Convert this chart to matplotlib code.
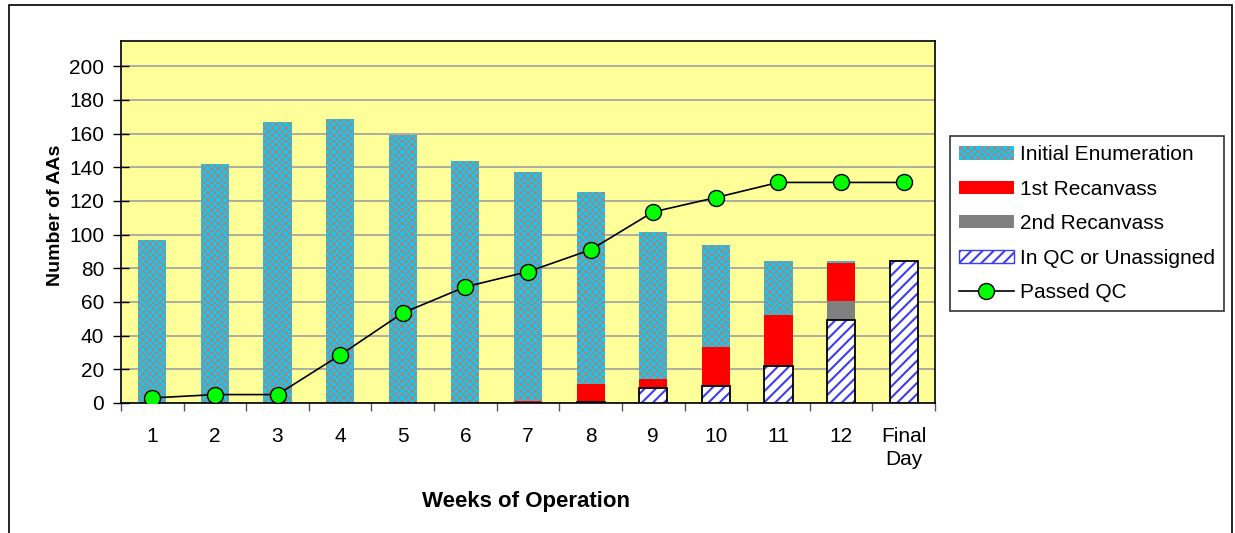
import matplotlib
matplotlib.use("Agg")
import matplotlib.pyplot as plt
from matplotlib.patches import Patch, Rectangle
from matplotlib.lines import Line2D
from matplotlib.path import Path
from matplotlib.legend_handler import HandlerBase
from matplotlib.colors import to_rgb
import numpy as np

plt.rcParams['font.family'] = ['Liberation Sans', 'DejaVu Sans']
plt.rcParams['hatch.linewidth'] = 1.5

categories = ["1", "2", "3", "4", "5", "6", "7", "8", "9", "10", "11", "12", "Final\nDay"]
totals = [97, 142, 167, 168.5, 159, 144, 137, 125.5, 101.5, 94, 84.5, 84.5, 84.5]
in_qc = [0, 0, 0, 0, 0, 0, 0, 0.5, 9, 10, 22, 49, 84.5]
recanvass1 = [0, 0, 0, 0, 0, 0, 1, 11, 5, 23, 30, 22.5, 0]
recanvass2 = [0, 0, 0, 0, 0, 0, 0, 0, 0, 0, 0, 11.5, 0]
passed_qc = [3, 5, 5, 28.5, 53.5, 69, 78, 91, 113.5, 122, 131, 131, 131]

initial = [t - q - r1 - r2 for t, q, r1, r2 in zip(totals, in_qc, recanvass1, recanvass2)]

W, H = 1235, 533
AX_L, AX_R, AX_T, AX_B = 121, 935, 41, 403
fig = plt.figure(figsize=(W / 100, H / 100), dpi=100)
ax = fig.add_axes([AX_L / W, (H - AX_B) / H, (AX_R - AX_L) / W, (AX_B - AX_T) / H])
ax.set_facecolor('#FFFF99')

x = np.arange(len(categories))
bw = 0.45
cyan = '#14C8F2'
gray_c = '#8E8E8E'
blue_h = '#3C3CF0'
XLIM = (-0.5, len(categories) - 0.5)
YLIM = (0, 215)

# In QC (hatched) bottom
ax.bar(x, in_qc, bw, color='white', edgecolor=blue_h, hatch='///', linewidth=0, zorder=3)
ax.bar(x, in_qc, bw, facecolor='none', edgecolor='black', linewidth=1.3, zorder=4)
b1 = np.array(in_qc)
ax.bar(x, recanvass2, bw, bottom=b1, color='#808080', linewidth=0, zorder=3)
b2 = b1 + np.array(recanvass2)
ax.bar(x, recanvass1, bw, bottom=b2, color='#FF0000', linewidth=0, zorder=3)
b3 = b2 + np.array(recanvass1)
init_bars = ax.bar(x, initial, bw, bottom=b3, color=cyan, linewidth=0, zorder=3)

# checkerboard texture for Initial Enumeration, clipped to its bars
cell = 3.4
nx = int(round((AX_R - AX_L) / cell))
ny = int(round((AX_B - AX_T) / cell))
ii, jj = np.meshgrid(np.arange(nx), np.arange(ny))
mask = ((ii + jj) % 2).astype(bool)
img = np.empty((ny, nx, 3))
img[mask] = to_rgb(cyan)
img[~mask] = to_rgb(gray_c)
im = ax.imshow(img, extent=(XLIM[0], XLIM[1], YLIM[0], YLIM[1]), origin='lower',
               interpolation='nearest', aspect='auto', zorder=3.5)
paths = []
for p in init_bars:
    bb = p.get_bbox()
    if bb.height > 0:
        paths.append(Path([(bb.x0, bb.y0), (bb.x1, bb.y0), (bb.x1, bb.y1), (bb.x0, bb.y1), (bb.x0, bb.y0)],
                          [Path.MOVETO, Path.LINETO, Path.LINETO, Path.LINETO, Path.CLOSEPOLY]))
im.set_clip_path(Path.make_compound_path(*paths), ax.transData)

ax.plot(x, passed_qc, color='black', lw=1.2, marker='o', markersize=11.5,
        markerfacecolor='#00FF00', markeredgecolor='black', markeredgewidth=1, zorder=5)

ax.set_xlim(*XLIM)
ax.set_ylim(*YLIM)
ax.set_yticks(np.arange(0, 201, 20))
ax.yaxis.grid(True, color='#A0A0A0', lw=1.2, zorder=0)
ax.set_axisbelow(True)
ax.set_xticks(x)
ax.set_xticklabels(categories, linespacing=1.32)
ax.set_xticks(np.arange(-0.5, len(categories), 1), minor=True)
ax.tick_params(axis='x', which='major', length=0, pad=17, labelsize=15)
ax.tick_params(axis='x', which='minor', length=6, width=1, color='#555555', direction='out')
ax.tick_params(axis='y', length=12, width=1, direction='inout', labelsize=15, pad=6)
for s in ax.spines.values():
    s.set_color('black')
    s.set_linewidth(1.2)

ax.set_ylabel('Number of AAs', fontsize=14, fontweight='bold')
ax.yaxis.set_label_coords((64 - AX_L) / (AX_R - AX_L), (AX_B - 215) / (AX_B - AX_T))
ax.set_xlabel('Weeks of Operation', fontsize=16, fontweight='bold')
ax.xaxis.set_label_coords((526 - AX_L) / (AX_R - AX_L), (AX_B - 491) / (AX_B - AX_T))


class CheckerHandler(HandlerBase):
    def create_artists(self, legend, orig_handle, xdescent, ydescent, width, height, fontsize, trans):
        ncol, nrow = 16, 4
        cw, ch = width / ncol, height / nrow
        arts = []
        for r in range(nrow):
            for c in range(ncol):
                col = cyan if (r + c) % 2 == 0 else gray_c
                arts.append(Rectangle((-xdescent + c * cw, -ydescent + r * ch), cw, ch,
                                      facecolor=col, edgecolor='none', lw=0, transform=trans))
        return arts


checker_handle = Patch(facecolor=cyan)
handles = [
    checker_handle,
    Patch(facecolor='#FF0000', linewidth=0),
    Patch(facecolor='#808080', linewidth=0),
    Patch(facecolor='white', edgecolor=blue_h, hatch='///', linewidth=1),
    Line2D([0], [0], color='black', lw=1.2, marker='o', markersize=11.5,
           markerfacecolor='#00FF00', markeredgecolor='black'),
]
labels = ['Initial Enumeration', '1st Recanvass', '2nd Recanvass', 'In QC or Unassigned', 'Passed QC']
leg = fig.legend(handles, labels, loc='upper left', bbox_to_anchor=(950 / W, 1 - 136 / H),
                 frameon=True, fancybox=False, shadow=False, fontsize=15,
                 handlelength=2.6, handleheight=0.6, labelspacing=0.74, borderaxespad=0,
                 borderpad=0.45, handletextpad=0.3,
                 handler_map={checker_handle: CheckerHandler()})
leg.get_frame().set_edgecolor('black')
leg.get_frame().set_linewidth(1.2)

# outer chart border
fig.add_artist(Rectangle((9 / W, -0.1), (1232 - 9) / W, 1.1 - 5 / H,
                         transform=fig.transFigure, fill=False, edgecolor='black', lw=1.2))

fig.savefig('out.png', dpi=100)
